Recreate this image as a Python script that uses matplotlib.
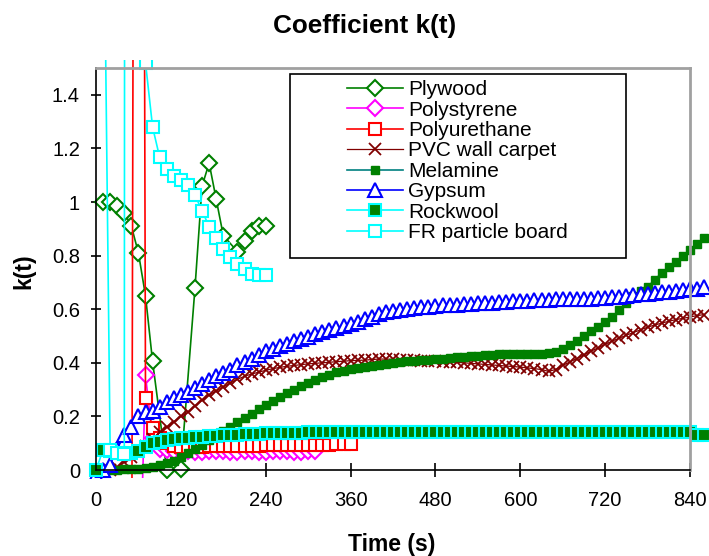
import matplotlib
matplotlib.use("Agg")
import matplotlib.pyplot as plt
from matplotlib.patches import Rectangle

plt.rcParams['font.family'] = ['Liberation Sans', 'DejaVu Sans']

# ---- data -------------------------------------------------------------
t_ply = [10, 20, 30, 40, 50, 60, 70, 80, 100, 120, 140, 150, 160, 170, 180,
         200, 210, 220, 230, 240]
k_ply = [1.0, 1.0, 0.985, 0.96, 0.91, 0.81, 0.65, 0.405, 0.0, 0.005, 0.68,
         1.06, 1.145, 1.01, 0.875, 0.815, 0.855, 0.89, 0.91, 0.91]

t_pst = [60, 70, 80, 90, 100, 110, 120, 130, 140, 150, 160, 170, 180, 190,
         200, 210, 220, 230, 240, 250, 260, 270, 280, 290, 300, 310]
k_pst = [-0.6, 0.353, 0.12, 0.08, 0.075, 0.072, 0.07, 0.07, 0.068, 0.068,
         0.07, 0.07, 0.07, 0.068, 0.068, 0.07, 0.07, 0.068, 0.068, 0.07,
         0.07, 0.07, 0.068, 0.068, 0.07, 0.07]

t_pur = [50, 60, 70, 80, 90, 100, 110, 120, 130, 140, 150, 160, 170, 180,
         190, 200, 210, 220, 230, 240, 250, 260, 270, 280, 290, 300, 310,
         320, 330, 340, 350, 360]
k_pur = [-1.0, 10.0, 0.27, 0.155, 0.12, 0.1, 0.09, 0.087, 0.087, 0.087,
         0.087, 0.088, 0.088, 0.09, 0.09, 0.09, 0.09, 0.09, 0.09, 0.092,
         0.092, 0.093, 0.093, 0.093, 0.094, 0.094, 0.095, 0.095, 0.095,
         0.096, 0.096, 0.097]

t_long = [0, 10, 20, 30, 40, 50, 60, 70, 80, 90, 100, 110, 120, 130, 140,
          150, 160, 170, 180, 190, 200, 210, 220, 230, 240, 250, 260, 270,
          280, 290, 300, 310, 320, 330, 340, 350, 360, 370, 380, 390, 400,
          410, 420, 430, 440, 450, 460, 470, 480, 490, 500, 510, 520, 530,
          540, 550, 560, 570, 580, 590, 600, 610, 620, 630, 640, 650, 660,
          670, 680, 690, 700, 710, 720, 730, 740, 750, 760, 770, 780, 790,
          800, 810, 820, 830, 840, 850, 860]

k_pvc = [0.0, 0.0, 0.0, 0.01, 0.03, 0.05, 0.07, 0.09, 0.115, 0.14, 0.16,
         0.18, 0.2, 0.215, 0.24, 0.26, 0.28, 0.295, 0.31, 0.325, 0.338,
         0.35, 0.358, 0.365, 0.372, 0.378, 0.383, 0.387, 0.39, 0.393, 0.396,
         0.398, 0.4, 0.402, 0.404, 0.406, 0.408, 0.409, 0.41, 0.412, 0.414,
         0.414, 0.413, 0.412, 0.411, 0.41, 0.408, 0.406, 0.405, 0.404, 0.403,
         0.402, 0.4, 0.398, 0.396, 0.394, 0.392, 0.39, 0.388, 0.386, 0.384,
         0.381, 0.378, 0.375, 0.368, 0.375, 0.39, 0.403, 0.416, 0.43, 0.443,
         0.456, 0.469, 0.481, 0.492, 0.503, 0.513, 0.523, 0.533, 0.541,
         0.548, 0.555, 0.561, 0.566, 0.571, 0.576, 0.58]

k_mel = [0.0, 0.0, 0.0, 0.0, 0.002, 0.003, 0.005, 0.007, 0.01, 0.017, 0.025,
         0.035, 0.047, 0.062, 0.077, 0.094, 0.111, 0.128, 0.145, 0.162,
         0.178, 0.195, 0.21, 0.226, 0.242, 0.257, 0.272, 0.286, 0.3, 0.313,
         0.325, 0.337, 0.347, 0.356, 0.364, 0.37, 0.376, 0.381, 0.385, 0.389,
         0.392, 0.395, 0.399, 0.402, 0.405, 0.408, 0.41, 0.412, 0.414, 0.416,
         0.418, 0.42, 0.422, 0.424, 0.426, 0.428, 0.43, 0.431, 0.432, 0.432,
         0.433, 0.433, 0.434, 0.434, 0.436, 0.442, 0.452, 0.466, 0.483, 0.5,
         0.518, 0.535, 0.553, 0.571, 0.597, 0.625, 0.648, 0.667, 0.683, 0.71,
         0.735, 0.757, 0.776, 0.797, 0.82, 0.845, 0.865]

k_gyp = [-0.02, 0.0, 0.02, 0.08, 0.13, 0.16, 0.2, 0.215, 0.222, 0.235, 0.254,
         0.267, 0.279, 0.29, 0.305, 0.32, 0.335, 0.35, 0.362, 0.375, 0.39,
         0.402, 0.415, 0.43, 0.443, 0.452, 0.462, 0.472, 0.48, 0.49, 0.498,
         0.506, 0.514, 0.522, 0.53, 0.538, 0.546, 0.554, 0.562, 0.572, 0.583,
         0.588, 0.592, 0.597, 0.601, 0.605, 0.608, 0.61, 0.612, 0.614, 0.616,
         0.617, 0.619, 0.62, 0.622, 0.624, 0.625, 0.627, 0.628, 0.629, 0.63,
         0.631, 0.633, 0.634, 0.636, 0.637, 0.637, 0.638, 0.638, 0.639, 0.639,
         0.64, 0.641, 0.644, 0.646, 0.649, 0.652, 0.655, 0.657, 0.66, 0.663,
         0.665, 0.668, 0.671, 0.674, 0.677, 0.684]

k_rock = [0.0, 0.075, 0.072, 0.065, 0.06, 0.062, 0.072, 0.087, 0.1, 0.105,
          0.112, 0.115, 0.118, 0.12, 0.122, 0.124, 0.126, 0.128, 0.13, 0.13,
          0.132, 0.134, 0.136, 0.136, 0.137, 0.137, 0.138, 0.138, 0.138,
          0.139, 0.14, 0.141, 0.141, 0.141, 0.142, 0.142, 0.142, 0.142,
          0.142, 0.142, 0.142, 0.142, 0.142, 0.142, 0.142, 0.142, 0.142,
          0.142, 0.142, 0.142, 0.142, 0.142, 0.142, 0.142, 0.142, 0.142,
          0.142, 0.142, 0.142, 0.142, 0.142, 0.142, 0.142, 0.142, 0.142,
          0.142, 0.142, 0.142, 0.142, 0.142, 0.142, 0.142, 0.142, 0.142,
          0.142, 0.142, 0.142, 0.142, 0.142, 0.142, 0.142, 0.142, 0.142,
          0.142, 0.142, 0.132, 0.13]

t_fr = [10, 20, 30, 40, 50, 60, 70, 80, 90, 100, 110, 120, 130, 140, 150,
        160, 170, 180, 190, 200, 210, 220, 230, 240]
k_fr = [2.4, 0.075, 0.065, 0.06, 40.0, 20.0, 1.52, 1.28, 1.167, 1.125,
        1.097, 1.082, 1.063, 1.026, 0.967, 0.908, 0.864, 0.824, 0.793, 0.768,
        0.75, 0.733, 0.727, 0.727]

x_ticks = [0, 120, 240, 360, 480, 600, 720, 840]
y_ticks = [0, 0.2, 0.4, 0.6, 0.8, 1, 1.2, 1.4]
y_tick_labels = ["0", "0.2", "0.4", "0.6", "0.8", "1", "1.2", "1.4"]

# ---- figure -------------------------------------------------------------
W, H = 709, 556
fig = plt.figure(figsize=(W / 100, H / 100), dpi=100)
ax = fig.add_axes([96 / W, 1 - 470 / H, 594 / W, 402 / H])
ax.set_xlim(0, 840)
ax.set_ylim(0, 1.5)

series = [
    dict(x=t_ply, y=k_ply, label="Plywood", color="#008000", marker="D",
         ms=8, mfc="white", mec="#008000", lw=1.2, mew=1.5),
    dict(x=t_pst, y=k_pst, label="Polystyrene", color="#FF00FF", marker="D",
         ms=8, mfc="white", mec="#FF00FF", lw=1.2, mew=1.5),
    dict(x=t_pur, y=k_pur, label="Polyurethane", color="#FF0000", marker="s",
         ms=9, mfc="white", mec="#FF0000", lw=1.2, mew=1.5),
    dict(x=t_long, y=k_pvc, label="PVC wall carpet", color="#800000",
         marker="x", ms=8, mfc="none", mec="#800000", lw=0.9, mew=1.3),
    dict(x=t_long, y=k_mel, label="Melamine", color="#008080", marker="s",
         ms=5.5, mfc="#008000", mec="#008000", lw=1.2, mew=1.0),
    dict(x=t_long, y=k_gyp, label="Gypsum", color="#0000FF", marker="^",
         ms=9.5, mfc="white", mec="#0000FF", lw=1.2, mew=1.5),
    dict(x=t_long, y=k_rock, label="Rockwool", color="#00FFFF", marker="s",
         ms=8, mfc="#008000", mec="#00FFFF", lw=1.2, mew=1.5),
    dict(x=t_fr, y=k_fr, label="FR particle board", color="#00FFFF",
         marker="s", ms=9, mfc="white", mec="#00FFFF", lw=1.2, mew=1.5),
]

clip = Rectangle((-20, -0.03), 920, 1.56, transform=ax.transData,
                 fill=False, visible=False)
ax.add_patch(clip)

handles = []
for s in series:
    ln, = ax.plot(s["x"], s["y"], color=s["color"], lw=s["lw"],
                  marker=s["marker"], markersize=s["ms"],
                  markerfacecolor=s["mfc"], markeredgecolor=s["mec"],
                  markeredgewidth=s["mew"], label=s["label"])
    ln.set_clip_path(clip)
    handles.append(ln)

# axes frame
for side in ("left", "bottom"):
    ax.spines[side].set_color("black")
    ax.spines[side].set_linewidth(1.2)
for side in ("top", "right"):
    ax.spines[side].set_color("#a0a0a0")
    ax.spines[side].set_linewidth(2)

ax.set_xticks(x_ticks)
ax.set_xticklabels([str(v) for v in x_ticks])
ax.set_yticks(y_ticks)
ax.set_yticklabels(y_tick_labels)
ax.tick_params(direction="inout", width=1.2, labelsize=14.5,
               top=False, right=False)
ax.tick_params(axis="x", length=9.4, pad=10.2)
ax.tick_params(axis="y", length=6.7, pad=8.2)

fig.text(365 / W, 1 - 32.7 / H, "Coefficient k(t)", ha="center",
         va="baseline", fontsize=18.8, fontweight="bold")
fig.text(392 / W, 1 - 551 / H, "Time (s)", ha="center", va="baseline",
         fontsize=16.5, fontweight="bold")
fig.text(24 / W, 1 - 271 / H, "k(t)", ha="center", va="center",
         rotation=90, fontsize=16.5, fontweight="bold")

# legend box and entries
box = Rectangle((290 / W, 1 - 258 / H), 336 / W, 184 / H,
                transform=fig.transFigure, facecolor="white",
                edgecolor="black", lw=1.2, zorder=5)
fig.add_artist(box)
leg = fig.legend(handles=handles, loc="upper left",
                 bbox_to_anchor=(346.7 / W, 1 - 80.3 / H),
                 bbox_transform=fig.transFigure, frameon=False,
                 fontsize=15, handlelength=2.72, handletextpad=0.24,
                 labelspacing=0.067, borderpad=0, borderaxespad=0)
leg.set_zorder(6)

fig.savefig("out.png", dpi=100)
